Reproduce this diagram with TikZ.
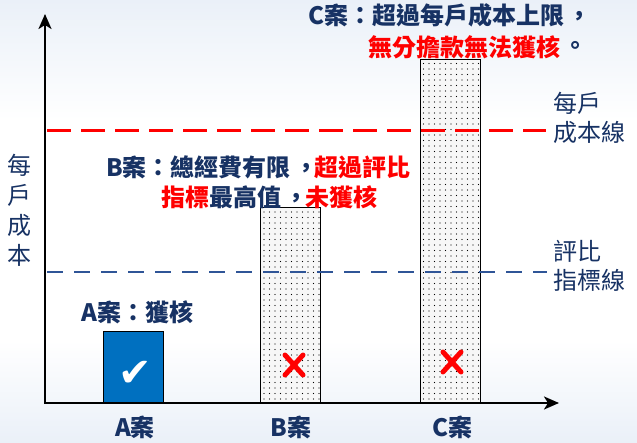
\documentclass[tikz,border=0pt]{standalone}
\usepackage{fontspec}
\setmainfont{Noto Sans CJK TC}
\newfontfamily\symbolfont{DejaVu Sans}
\usetikzlibrary{arrows.meta, patterns.meta, positioning}
\definecolor{navy}{RGB}{23,50,100}
\definecolor{indexblue}{RGB}{47,85,151}
\definecolor{passblue}{RGB}{0,112,192}
\definecolor{bgblue}{RGB}{234,240,248}
% centred full-width punctuation
\newcommand\tcpunct[2][0pt]{\hbox to 1em{\kern .14em\raisebox{#1}{\rlap{#2}}\hss}}

\begin{document}
\begin{tikzpicture}[
      x=1pt, y=-1pt,
      >={Stealth[length=15pt,width=13pt,inset=4pt]},
      axis line/.style={<->,line width=2.5pt},
      cap line/.style={red,line width=3pt,dash pattern=on 24pt off 10pt},
      index line/.style={indexblue,line width=2pt,dash pattern=on 16pt off 11pt},
      bar/.style={draw,line width=0.8pt,fill=black!3,minimum width=60pt,anchor=south,inner sep=0pt,
        postaction={pattern={Dots[distance=5.5pt,radius=0.55pt]},pattern color=black}},
      pass box/.style={draw,line width=1pt,fill=passblue,minimum width=60pt,minimum height=71pt,anchor=south,inner sep=0pt},
      miss/.style={red,line width=5pt,line cap=round},
      note/.style={font=\fontsize{24}{28}\selectfont\bfseries,text=navy,inner sep=0pt,anchor=west},
      case name/.style={font=\fontsize{24}{28}\selectfont\bfseries,text=navy,inner sep=0pt},
      line name/.style={font=\fontsize{24}{29}\selectfont,text=navy,inner sep=0pt,align=left,anchor=west}
      ]
      % background
      \fill[white] (0,0) rectangle (637,443);
      \fill[top color=bgblue,bottom color=white] (0,0) rectangle (637,120);
      \fill[top color=white,bottom color=bgblue] (0,340) rectangle (637,443);
      \useasboundingbox (0,0) rectangle (637,443);
      % bars
      \node[pass box] (caseA) at (133,403) {};
      \node[bar,minimum height=195pt] (caseB) at (290,403) {};
      \node[bar,minimum height=343pt] (caseC) at (450.5,403) {};
      % reference lines
      \coordinate (cap start) at (47,131);
      \coordinate (cap end) at (546,131);
      \coordinate (index start) at (47,272);
      \coordinate (index end) at (547,272);
      \draw[cap line] (cap start) -- (cap end);
      \draw[index line] (index start) -- (index end);
      % marks
      \node[text=white,font=\symbolfont\fontsize{40}{40}\selectfont,inner sep=0pt] (checkA) at (135,374) {✔};
      \foreach \c/\x/\y in {B/294/365,C/452/362} {
          \coordinate (miss\c) at (\x,\y);
          \draw[miss] ([shift={(-9,10)}]miss\c) -- ([shift={(9,-10)}]miss\c);
          \draw[miss] ([shift={(-9,-10)}]miss\c) -- ([shift={(9,10)}]miss\c);
      }
      % axes
      \coordinate (origin) at (45,403);
      \coordinate (y top) at (45,14);
      \coordinate (x end) at (559,403);
      \draw[axis line] (y top) |- (x end);
      % axis names
      \node[font=\fontsize{24}{30}\selectfont,text=navy,align=center,inner sep=0pt] (yname) at (19,210) {每\\戶\\成\\本};
      \foreach \c/\x in {A/135,B/291,C/452} {
          \node[case name] (name\c) at (\x,427) {\c 案};
      }
      % line names
      \node[line name] (capname) at (553,118) {每戶\\成本線};
      \node[line name] (indexname) at (553,266) {評比\\指標線};
      % notes
      \node[note] (noteA) at (81,312) {A案：獲核};
      \node[note] (noteB1) at (106,167) {B案：總經費有限\tcpunct{，}\textcolor{red}{超過評比}};
      \node[note] (noteB2) at (161,197) {\textcolor{red}{指標}最高值\tcpunct{，}\textcolor{red}{未獲核}};
      \node[note] (noteC1) at (308,15) {C案：超過每戶成本上限\tcpunct{，}};
      \node[note] (noteC2) at (368,47) {\textcolor{red}{無分擔款無法獲核}\tcpunct[.06em]{。}};
    \end{tikzpicture}
\end{document}
